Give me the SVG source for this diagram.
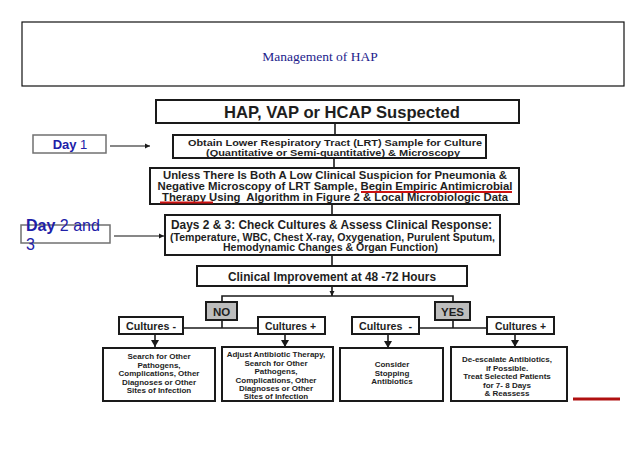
<svg xmlns="http://www.w3.org/2000/svg" width="638" height="452" viewBox="0 0 638 452">
<defs>
<style>
.bx{fill:#fff;stroke:#1a1a1a;stroke-width:2}
.gb{fill:#bdbdbd;stroke:#1a1a1a;stroke-width:2}
.t{font-family:"Liberation Sans",Arial,sans-serif;font-weight:bold;fill:#1e1e1e;text-anchor:middle}
.ln{stroke:#1a1a1a;stroke-width:1.6;fill:none}
.day{fill:#fff;stroke:#707070;stroke-width:1.5}
.dt{font-family:"Liberation Sans",Arial,sans-serif;fill:#2020a8}
.red{stroke:#cc1111;stroke-width:2}
</style>
<marker id="ah" markerWidth="6" markerHeight="6" refX="5" refY="3" orient="auto" markerUnits="userSpaceOnUse"><path d="M0,0.5 L5,3 L0,5.5 Z" fill="#1a1a1a"/></marker>
<marker id="ah2" markerWidth="8" markerHeight="8" refX="7" refY="4" orient="auto" markerUnits="userSpaceOnUse"><path d="M0,0 L7,4 L0,8 Z" fill="#1a1a1a"/></marker>
</defs>
<rect x="0" y="0" width="638" height="452" fill="#fff"/>

<g id="title">
<rect x="22" y="22" width="602" height="64" fill="#fff" stroke="#111" stroke-width="1.2"/>
<text x="320" y="60.5" font-family="Liberation Serif,Times New Roman,serif" font-size="13.5" fill="#1c1c8c" text-anchor="middle">Management of HAP</text>
</g>

<g id="connectors">
<line class="ln" x1="335" y1="123" x2="335" y2="135"/>
<line class="ln" x1="334" y1="158" x2="334" y2="168"/>
<line class="ln" x1="332" y1="204" x2="332" y2="215"/>
<line class="ln" x1="332" y1="255" x2="332" y2="266"/>
<line class="ln" x1="332" y1="286" x2="332" y2="296" marker-end="url(#ah)"/>
<polyline class="ln" points="222,302 222,296 453,296 453,302"/>
<line class="ln" x1="222" y1="320" x2="222" y2="328"/>
<line class="ln" x1="183" y1="328" x2="258" y2="328"/>
<line class="ln" x1="453" y1="320" x2="453" y2="328"/>
<line class="ln" x1="419" y1="328" x2="487" y2="328"/>
<line class="ln" x1="155" y1="334" x2="155" y2="347" marker-end="url(#ah2)"/>
<line class="ln" x1="285" y1="334" x2="285" y2="347" marker-end="url(#ah2)"/>
<line class="ln" x1="388" y1="334" x2="388" y2="348" marker-end="url(#ah2)"/>
<line class="ln" x1="515" y1="334" x2="515" y2="347" marker-end="url(#ah2)"/>
<line x1="110" y1="146" x2="150" y2="146" stroke="#111" stroke-width="1.2" marker-end="url(#ah)"/>
<line x1="114" y1="236" x2="164" y2="236" stroke="#111" stroke-width="1.2" marker-end="url(#ah)"/>
</g>

<g id="hap">
<rect class="bx" x="156" y="100" width="363" height="23"/>
<text class="t" x="342" y="117.5" font-size="16.5" textLength="236" lengthAdjust="spacingAndGlyphs">HAP, VAP or HCAP Suspected</text>
</g>

<g id="obtain">
<rect class="bx" x="173" y="135" width="313" height="23"/>
<text class="t" x="335" y="145.5" font-size="9.5" textLength="294" lengthAdjust="spacingAndGlyphs">Obtain Lower Respiratory Tract (LRT) Sample for Culture</text>
<text class="t" x="333" y="155.5" font-size="9.5" textLength="254" lengthAdjust="spacingAndGlyphs">(Quantitative or Semi-quantitative) &amp; Microscopy</text>
</g>

<g id="unless">
<rect class="bx" x="150" y="168" width="369" height="36"/>
<text class="t" x="335" y="179" font-size="11" textLength="344" lengthAdjust="spacingAndGlyphs">Unless There Is Both A Low Clinical Suspicion for Pneumonia &amp;</text>
<text class="t" x="335" y="190" font-size="11" textLength="355" lengthAdjust="spacingAndGlyphs">Negative Microscopy of LRT Sample, Begin Empiric Antimicrobial</text>
<text class="t" x="335" y="201" font-size="11" textLength="346" lengthAdjust="spacingAndGlyphs" xml:space="preserve">Therapy Using  Algorithm in Figure 2 &amp; Local Microbiologic Data</text>
<line class="red" x1="361" y1="192" x2="512" y2="192"/>
<line class="red" x1="160" y1="202.5" x2="213" y2="202.5"/>
</g>

<g id="days23">
<rect class="bx" x="165" y="215" width="335" height="40"/>
<text class="t" x="331.5" y="229" font-size="12" textLength="321" lengthAdjust="spacingAndGlyphs">Days 2 &amp; 3: Check Cultures &amp; Assess Clinical Response:</text>
<text class="t" x="332.5" y="240.5" font-size="10.5" textLength="325" lengthAdjust="spacingAndGlyphs">(Temperature, WBC, Chest X-ray, Oxygenation, Purulent Sputum,</text>
<text class="t" x="330.5" y="251" font-size="10.5" textLength="215" lengthAdjust="spacingAndGlyphs">Hemodynamic Changes &amp; Organ Function)</text>
</g>

<g id="improve">
<rect class="bx" x="197" y="266" width="270" height="20"/>
<text class="t" x="332" y="281" font-size="12" textLength="208" lengthAdjust="spacingAndGlyphs">Clinical Improvement at 48 -72 Hours</text>
</g>

<g id="no">
<rect class="gb" x="206" y="302" width="31" height="18"/>
<text class="t" x="221.5" y="315.5" font-size="11.5">NO</text>
</g>
<g id="yes">
<rect class="gb" x="435" y="302" width="35" height="18"/>
<text class="t" x="452.5" y="315.5" font-size="11.5">YES</text>
</g>

<g id="cult-neg-1">
<rect class="bx" x="119" y="317" width="64" height="17"/>
<text class="t" x="151" y="329.5" font-size="10" textLength="50" lengthAdjust="spacingAndGlyphs">Cultures -</text>
</g>
<g id="cult-pos-1">
<rect class="bx" x="258" y="317" width="67" height="17"/>
<text class="t" x="290.5" y="329.5" font-size="10" textLength="51" lengthAdjust="spacingAndGlyphs">Cultures +</text>
</g>
<g id="cult-neg-2">
<rect class="bx" x="352" y="317" width="67" height="17"/>
<text class="t" x="385.5" y="329.5" font-size="10" textLength="53" lengthAdjust="spacingAndGlyphs" xml:space="preserve">Cultures  -</text>
</g>
<g id="cult-pos-2">
<rect class="bx" x="487" y="317" width="67" height="17"/>
<text class="t" x="520.5" y="329.5" font-size="10" textLength="51" lengthAdjust="spacingAndGlyphs">Cultures +</text>
</g>

<g id="search">
<rect class="bx" x="103" y="348" width="112" height="53"/>
<text class="t" x="159" y="359" font-size="8">Search for Other</text>
<text class="t" x="159" y="367.5" font-size="8">Pathogens,</text>
<text class="t" x="159" y="376" font-size="8">Complications, Other</text>
<text class="t" x="159" y="384.5" font-size="8">Diagnoses or Other</text>
<text class="t" x="159" y="393" font-size="8">Sites of Infection</text>
</g>
<g id="adjust">
<rect class="bx" x="222" y="347" width="111" height="54"/>
<text class="t" x="276" y="357" font-size="8">Adjust Antibiotic Therapy,</text>
<text class="t" x="276" y="365.5" font-size="8">Search for Other</text>
<text class="t" x="276" y="374" font-size="8">Pathogens,</text>
<text class="t" x="276" y="382.5" font-size="8">Complications, Other</text>
<text class="t" x="276" y="391" font-size="8">Diagnoses or Other</text>
<text class="t" x="276" y="399" font-size="8">Sites of Infection</text>
</g>
<g id="consider">
<rect class="bx" x="340" y="348" width="103" height="53"/>
<text class="t" x="392" y="367" font-size="8">Consider</text>
<text class="t" x="392" y="375.5" font-size="8">Stopping</text>
<text class="t" x="392" y="384" font-size="8">Antibiotics</text>
</g>
<g id="deescalate">
<rect class="bx" x="451" y="347" width="116" height="54"/>
<text class="t" x="507" y="362" font-size="8">De-escalate Antibiotics,</text>
<text class="t" x="507" y="370.5" font-size="8">if Possible.</text>
<text class="t" x="507" y="379" font-size="8">Treat Selected Patients</text>
<text class="t" x="507" y="387.5" font-size="8">for 7- 8 Days</text>
<text class="t" x="507" y="396" font-size="8">&amp; Reassess</text>
</g>

<line x1="573" y1="399" x2="620" y2="399" stroke="#b01010" stroke-width="3"/>

<g id="day1">
<rect class="day" x="33" y="135" width="73" height="18"/>
<text class="dt" x="70" y="149" font-size="13" text-anchor="middle"><tspan font-weight="bold">Day</tspan> 1</text>
</g>
<g id="day2">
<rect class="day" x="21" y="225" width="89" height="18"/>
<text class="dt" x="26" y="230.5" font-size="16"><tspan font-weight="bold">Day</tspan> 2 and</text>
<text class="dt" x="26" y="250" font-size="16">3</text>
</g>
</svg>
